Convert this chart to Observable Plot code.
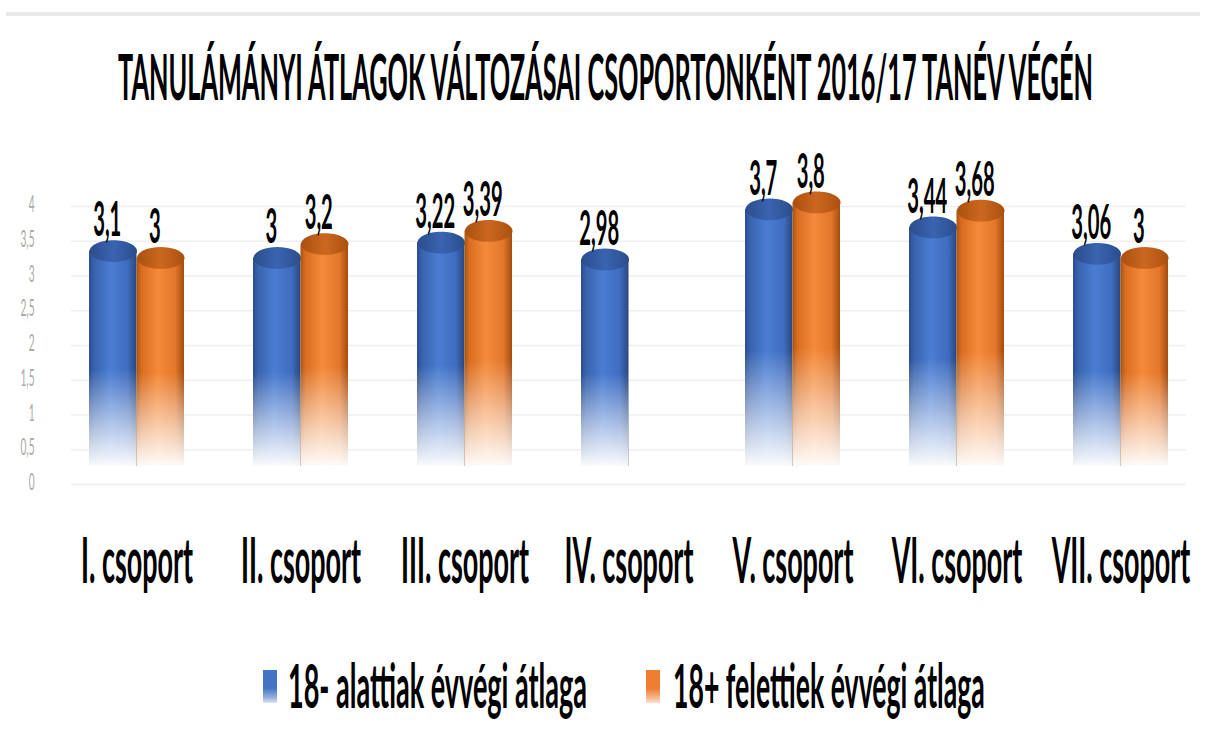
<!DOCTYPE html>
<html>
<head>
<meta charset="utf-8">
<script src="https://cdn.jsdelivr.net/npm/d3@7"></script>
<script src="https://cdn.jsdelivr.net/npm/@observablehq/plot@0.6"></script>
<style>
  html, body { margin: 0; padding: 0; background: #fff; }
  #wrap { position: relative; width: 1207px; height: 751px; overflow: hidden; font-family: Lato, "Open Sans", sans-serif; color: #000; }
  #topline { position: absolute; left: 6px; top: 12px; width: 1194px; height: 4px; background: #e9e9e9; }
  #titleText { position: absolute; left: 605px; top: 44px; font-size: 63px; line-height: 63px; font-weight: 700; white-space: nowrap; transform-origin: 0 50%; }
  #chart { position: absolute; left: 0; top: 120px; }
  .lg-mark { position: absolute; top: 670px; width: 14px; height: 33px; }
  .lg-text { position: absolute; top: 654px; font-size: 61px; line-height: 61px; font-weight: 700; white-space: nowrap; transform-origin: 0 50%; }
</style>
</head>
<body>
<div id="wrap">
  <div id="topline"></div>
  <div id="titleText"></div>
  <div id="chart"></div>
  <div id="lgMark0" class="lg-mark"></div>
  <div id="lgText0" class="lg-text"></div>
  <div id="lgMark1" class="lg-mark"></div>
  <div id="lgText1" class="lg-text"></div>
</div>
<script>
// ---------- data ----------
const titleText = "TANULÁMÁNYI ÁTLAGOK VÁLTOZÁSAI CSOPORTONKÉNT 2016/17 TANÉV VÉGÉN";
const groups = ["I. csoport", "II. csoport", "III. csoport", "IV. csoport", "V. csoport", "VI. csoport", "VII. csoport"];
const under18 = [3.1, 3, 3.22, 2.98, 3.7, 3.44, 3.06];
const over18 = [3, 3.2, 3.39, null, 3.8, 3.68, 3];
const seriesNames = ["18- alattiak évvégi átlaga", "18+ felettiek évvégi átlaga"];
const yTicks = [0, 0.5, 1, 1.5, 2, 2.5, 3, 3.5, 4];

// ---------- helpers ----------
const fmt = v => String(v).replace(".", ",");
const blueData = groups.map((g, i) => ({group: g, value: under18[i]})).filter(d => d.value != null);
const orangeData = groups.map((g, i) => ({group: g, value: over18[i]})).filter(d => d.value != null);

// title + legend (HTML, horizontally condensed)
const tEl = document.getElementById("titleText");
tEl.textContent = titleText;
{
  const tw = 975, w = tEl.offsetWidth, s = tw / w;
  tEl.style.left = (605 - tw / 2) + "px";
  tEl.style.transform = `scaleX(${s})`;
}

const lgLeft = [[263, 288, 299], [646, 673, 312]];
const lgGrad = [
  "linear-gradient(to bottom, #4472c4 0%, #4472c4 55%, #9db3e0 85%, #dce5f5 100%)",
  "linear-gradient(to bottom, #ed7d31 0%, #ed7d31 55%, #f5b98f 85%, #fbe3d2 100%)"
];
let K = 0.42;
seriesNames.forEach((name, i) => {
  const m = document.getElementById("lgMark" + i);
  m.style.left = lgLeft[i][0] + "px";
  m.style.background = lgGrad[i];
  const t = document.getElementById("lgText" + i);
  t.textContent = name;
  t.style.left = lgLeft[i][1] + "px";
  const f = lgLeft[i][2] / t.offsetWidth;
  if (i === 0) K = f;
  t.style.transform = `scaleX(${f})`;
});

// ---------- chart ----------
const W = 1207, H = 510, ML = 71, MR = 21, MT = 68, MB = 164;
const xOpts = {domain: groups, paddingInner: 0.42, paddingOuter: 0.1, axis: null};
const yOpts = {domain: [0, 4], axis: null};
const base = {width: W, height: H, marginLeft: ML, marginRight: MR, marginTop: MT, marginBottom: MB, x: xOpts, y: yOpts};

const probe = Plot.plot({...base, marks: [Plot.barY(blueData, {x: "group", y: "value"})]});
let bw = probe.scale && probe.scale("x") && probe.scale("x").bandwidth;
if (!bw) { const step = (W - ML - MR) / (groups.length - 0.42 + 0.2); bw = step * 0.58; }
const half = bw / 2, q = bw / 4;

const ellipse = {
  draw(ctx, size) {
    const rx = Math.sqrt(size / Math.PI), ry = rx * 0.46, k = 0.5523;
    ctx.moveTo(rx, 0);
    ctx.bezierCurveTo(rx, ry * k, rx * k, ry, 0, ry);
    ctx.bezierCurveTo(-rx * k, ry, -rx, ry * k, -rx, 0);
    ctx.bezierCurveTo(-rx, -ry * k, -rx * k, -ry, 0, -ry);
    ctx.bezierCurveTo(rx * k, -ry, rx, -ry * k, rx, 0);
    ctx.closePath();
  }
};

const series = [
  {data: blueData, fill: "url(#gBlue)", cap: "url(#cBlue)", side: -1},
  {data: orangeData, fill: "url(#gOrange)", cap: "url(#cOrange)", side: 1}
];

const marks = [
  Plot.ruleY(yTicks, {y: d => d, stroke: "#efefef", strokeWidth: 1.5, dy: 18}),
  Plot.text(yTicks, {y: d => d, text: d => fmt(d), frameAnchor: "left", textAnchor: "end", dx: -37, dy: 16, fontSize: 24, fill: "#a8a8a8"})
];
for (const s of series) {
  const ins = s.side < 0 ? {insetRight: half} : {insetLeft: half};
  marks.push(Plot.barY(s.data, {x: "group", y: "value", fill: s.fill, ...ins}));
  marks.push(Plot.barY(s.data, {x: "group", y: "value", fill: "url(#fade)", ...ins}));
  marks.push(Plot.dot(s.data, {x: "group", y: "value", dx: s.side * q, r: q, symbol: ellipse, fill: s.cap, stroke: null}));
}
for (const s of series) {
  marks.push(Plot.text(s.data, {x: "group", y: "value", text: d => fmt(d.value), dx: s.side * q - 6, dy: -30, fontSize: 48, fontWeight: 700, fill: "#000"}));
}
marks.push(Plot.text(groups, {x: d => d, text: d => d, frameAnchor: "bottom", dy: 116, fontSize: 64, fontWeight: 700, fill: "#000"}));

const plot = Plot.plot({...base, style: {fontFamily: "Lato, 'Open Sans', sans-serif", background: "white", overflow: "visible"}, marks});
document.getElementById("chart").appendChild(plot);

// gradient definitions
const svg = d3.select(plot);
const defs = svg.insert("defs", ":first-child");
function grad(id, horizontal, stops) {
  const g = defs.append("linearGradient").attr("id", id)
    .attr("x1", 0).attr("y1", 0).attr("x2", horizontal ? 1 : 0).attr("y2", horizontal ? 0 : 1);
  stops.forEach(([o, c, a]) => g.append("stop").attr("offset", o).attr("stop-color", c).attr("stop-opacity", a == null ? 1 : a));
}
grad("gBlue", true, [[0, "#2a4c8a"], [0.1, "#3862ad"], [0.45, "#4a7dd2"], [0.82, "#3f6cbf"], [1, "#27477f"]]);
grad("gOrange", true, [[0, "#ad520f"], [0.1, "#d86c20"], [0.45, "#f58a3a"], [0.82, "#e2762a"], [1, "#a44c0d"]]);
grad("cBlue", true, [[0, "#2b4d8c"], [0.5, "#3a64b2"], [1, "#2b4d8c"]]);
grad("cOrange", true, [[0, "#a9510f"], [0.5, "#cc671f"], [1, "#a9510f"]]);
grad("fade", false, [[0, "#ffffff", 0], [0.55, "#ffffff", 0], [0.8, "#ffffff", 0.55], [1, "#ffffff", 0.97]]);

// condense all svg text horizontally around its anchor (the reference is narrow-squeezed)
plot.querySelectorAll("text").forEach(t => {
  const ax = parseFloat(t.getAttribute("x")) || 0;
  const tr = t.getAttribute("transform") || "";
  t.setAttribute("transform", `${tr} translate(${ax},0) scale(${K * 0.95},1) translate(${-ax},0)`);
});
</script>
</body>
</html>
